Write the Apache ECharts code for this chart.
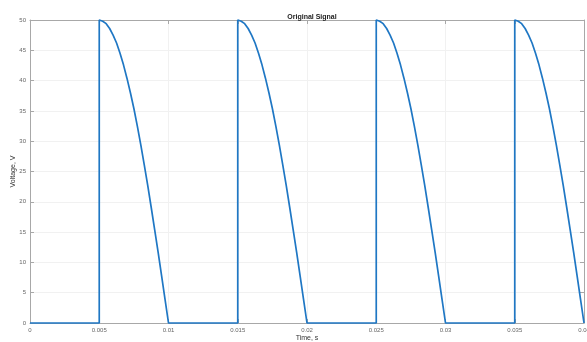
<!DOCTYPE html>
<html>
<head>
<meta charset="utf-8">
<script src="https://cdn.jsdelivr.net/npm/echarts@6/dist/echarts.min.js"></script>
<style>
  html, body { margin: 0; padding: 0; background: #fff; }
  #chart { width: 587px; height: 342px; }
</style>
</head>
<body>
<div id="chart"></div>
<script>
// Rectified pulse train: each pulse switches on at 50 V and falls back to 0 V.
const pulseOnsets = [0.005, 0.015, 0.025, 0.035];
// Time since switch-on (s) and voltage (V) over one falling edge
const decayTime = [0, 0.00025, 0.0005, 0.00075, 0.001, 0.00125, 0.0015, 0.00175, 0.002, 0.00225,
                   0.0025, 0.00275, 0.003, 0.00325, 0.0035, 0.00375, 0.004, 0.00425, 0.0045, 0.00475, 0.005];
const decayVoltage = [50, 49.8, 49.4, 48.6, 47.5, 46.2, 44.5, 42.6, 40.4, 38.0,
                      35.4, 32.5, 29.4, 26.1, 22.7, 19.1, 15.4, 11.7, 7.8, 3.9, 0];
const xTickLabels = ['0', '0.005', '0.01', '0.015', '0.02', '0.025', '0.03', '0.035', '0.04'];
const yTickLabels = ['0', '5', '10', '15', '20', '25', '30', '35', '40', '45', '50'];

const signal = [[0, 0]];
pulseOnsets.forEach(function (t0) {
  signal.push([t0, 0]);
  for (let i = 0; i < decayTime.length; i++) {
    signal.push([+(t0 + decayTime[i]).toFixed(6), decayVoltage[i]]);
  }
});

const axisGrey = '#a8a8a8';
const labelStyle = { color: '#666', fontSize: 6, fontFamily: 'Liberation Sans, Arial, sans-serif' };
const gridLine = { show: true, lineStyle: { color: '#f1f1f1', width: 1 } };

const chart = echarts.init(document.getElementById('chart'), null, { renderer: 'canvas' });
chart.setOption({
  animation: false,
  backgroundColor: '#ffffff',
  title: {
    text: 'Original Signal',
    left: 307, top: 9, textAlign: 'center',
    textStyle: { fontSize: 7, fontWeight: 'bold', color: '#222', fontFamily: 'Liberation Sans, Arial, sans-serif' }
  },
  grid: { left: 30, right: 3, top: 20, bottom: 19, containLabel: false, outerBoundsMode: 'none' },
  xAxis: [{
    type: 'value', min: 0, max: 0.04, interval: 0.005,
    name: 'Time, s', nameLocation: 'middle', nameGap: 12, nameMoveOverlap: false,
    nameTextStyle: { fontSize: 7, color: '#333', fontFamily: 'Liberation Sans, Arial, sans-serif' },
    axisLine: { show: true, onZero: false, lineStyle: { color: axisGrey, width: 1 } },
    axisTick: { show: true, inside: true, length: 4, lineStyle: { color: axisGrey } },
    axisLabel: Object.assign({ margin: 4, formatter: function (v) {
      return xTickLabels[Math.round(v / 0.005)];
    } }, labelStyle),
    splitLine: gridLine
  }, {
    type: 'value', min: 0, max: 0.04, interval: 0.005, position: 'top',
    axisLine: { show: true, onZero: false, lineStyle: { color: axisGrey, width: 1 } },
    axisTick: { show: true, inside: true, length: 4, lineStyle: { color: axisGrey } },
    axisLabel: { show: false }, splitLine: { show: false }
  }],
  yAxis: [{
    type: 'value', min: 0, max: 50, interval: 5,
    name: 'Voltage, V', nameLocation: 'middle', nameGap: 13, nameRotate: 90, nameMoveOverlap: false,
    nameTextStyle: { fontSize: 7, color: '#333', fontFamily: 'Liberation Sans, Arial, sans-serif' },
    axisLine: { show: true, onZero: false, lineStyle: { color: axisGrey, width: 1 } },
    axisTick: { show: true, inside: true, length: 4, lineStyle: { color: axisGrey } },
    axisLabel: Object.assign({ margin: 4, formatter: function (v) {
      return yTickLabels[Math.round(v / 5)];
    } }, labelStyle),
    splitLine: gridLine
  }, {
    type: 'value', min: 0, max: 50, interval: 5, position: 'right',
    axisLine: { show: true, onZero: false, lineStyle: { color: axisGrey, width: 1 } },
    axisTick: { show: true, inside: true, length: 4, lineStyle: { color: axisGrey } },
    axisLabel: { show: false }, splitLine: { show: false }
  }],
  series: [{
    type: 'line',
    data: signal,
    showSymbol: false,
    symbol: 'none',
    clip: false,
    lineStyle: { color: '#1f77c4', width: 1.7 }
  }]
});
</script>
</body>
</html>
